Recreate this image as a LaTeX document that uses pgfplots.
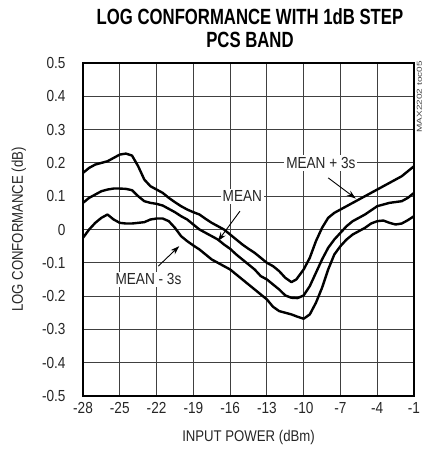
\documentclass[border=0pt]{standalone}
\usepackage{fontspec}
\setmainfont[FakeStretch=0.85]{Liberation Sans}
\newfontfamily\titlefont[FakeStretch=0.76]{Liberation Sans}
\newfontfamily\plainfont{Liberation Sans}
\usepackage{pgfplots}
\usepackage{pgfplotstable}
\pgfplotsset{compat=1.18}
\usetikzlibrary{arrows.meta}

\pgfplotstableread{
x y
-28 0.17
-27.5 0.185
-27 0.195
-26.5 0.2
-26 0.205
-25.5 0.215
-25 0.225
-24.5 0.228
-24 0.222
-23.5 0.19
-23 0.15
-22.5 0.13
-22 0.12
-21.5 0.11
-21 0.095
-20.5 0.082
-20 0.07
-19.5 0.06
-19 0.052
-18.5 0.045
-18 0.032
-17.5 0.02
-17 0.01
-16.5 0.0
-16 -0.015
-15.5 -0.03
-15 -0.045
-14.5 -0.058
-14 -0.07
-13.5 -0.085
-13 -0.1
-12.5 -0.11
-12 -0.125
-11.5 -0.145
-11 -0.158
-10.6 -0.15
-10 -0.12
-9.5 -0.085
-9 -0.035
-8.5 0.005
-8 0.035
-7.5 0.05
-7 0.06
-6.5 0.07
-6 0.08
-5.5 0.09
-5 0.1
-4 0.12
-3 0.14
-2 0.16
-1 0.19
}\updata

\pgfplotstableread{
x y
-28 0.08
-27.5 0.095
-27 0.105
-26.5 0.115
-26 0.12
-25.5 0.123
-25 0.123
-24.5 0.122
-24 0.118
-23.5 0.1
-23 0.085
-22.5 0.08
-22 0.077
-21.5 0.072
-21 0.062
-20.5 0.052
-20 0.04
-19.5 0.03
-19 0.015
-18.5 0.0
-18 -0.01
-17.5 -0.02
-17 -0.03
-16.5 -0.045
-16 -0.058
-15.5 -0.075
-15 -0.09
-14.5 -0.105
-14 -0.12
-13.5 -0.14
-13 -0.15
-12.5 -0.165
-12 -0.18
-11.5 -0.198
-11 -0.205
-10.5 -0.206
-10 -0.198
-9.5 -0.17
-9 -0.13
-8.5 -0.09
-8 -0.055
-7.5 -0.03
-7 -0.01
-6.5 0.01
-6 0.025
-5.5 0.035
-5 0.045
-4 0.07
-3 0.08
-2 0.085
-1.5 0.095
-1 0.11
}\meandata

\pgfplotstableread{
x y
-28 -0.025
-27.5 0.0
-27 0.02
-26.5 0.035
-26 0.045
-25.5 0.03
-25 0.02
-24.5 0.018
-24 0.018
-23.5 0.02
-23 0.022
-22.5 0.03
-22 0.033
-21.5 0.033
-21 0.025
-20.5 0.005
-20 -0.02
-19.5 -0.035
-19 -0.048
-18.5 -0.06
-18 -0.075
-17.5 -0.09
-17 -0.1
-16.5 -0.11
-16 -0.12
-15.5 -0.135
-15 -0.15
-14.5 -0.165
-14 -0.18
-13.5 -0.195
-13 -0.21
-12.5 -0.232
-12 -0.245
-11.5 -0.25
-11 -0.255
-10.5 -0.262
-10 -0.268
-9.5 -0.255
-9 -0.22
-8.5 -0.175
-8 -0.12
-7.5 -0.075
-7 -0.05
-6.5 -0.03
-6 -0.015
-5.5 -0.005
-5 0.005
-4.5 0.018
-4 0.025
-3.5 0.027
-3 0.02
-2.5 0.015
-2 0.018
-1.5 0.028
-1 0.04
}\lowdata

\begin{document}
\begin{tikzpicture}
\useasboundingbox (-83pt,-61pt) rectangle (339pt,396pt);
\begin{axis}[
  at={(0,0)}, anchor=south west,
  scale only axis, width=331pt, height=333pt,
  xmin=-28, xmax=-1, ymin=-0.5, ymax=0.5,
  xtick={-28,-25,-22,-19,-16,-13,-10,-7,-4,-1},
  xticklabels={-28,-25,-22,-19,-16,-13,-10,-7,-4,-1},
  ytick={-0.5,-0.4,-0.3,-0.2,-0.1,0,0.1,0.2,0.3,0.4,0.5},
  yticklabels={-0.5,-0.4,-0.3,-0.2,-0.1,0,0.1,0.2,0.3,0.4,0.5},
  grid=major,
  major grid style={black!75, line width=0.9pt},
  axis line style={line width=2.4pt},
  major tick length=0pt,
  tick label style={font=\fontsize{16}{16}\selectfont, text=black!85},
  yticklabel style={xshift=-14pt},
  xticklabel style={yshift=-3pt},
  xlabel={INPUT POWER (dBm)},
  ylabel={LOG CONFORMANCE (dB)},
  label style={font=\fontsize{15.5}{16}\selectfont, text=black!85},
  xlabel style={yshift=-10pt},
  ylabel style={yshift=9pt},
]
\addplot[black, line width=2.4pt, line join=round, no marks] table {\updata};
\addplot[black, line width=2.4pt, line join=round, no marks] table {\meandata};
\addplot[black, line width=2.4pt, line join=round, no marks] table {\lowdata};
\node[fill=white, inner sep=2pt, font=\fontsize{16}{16}\selectfont, text=black!85] at (axis cs:-8.6,0.2) {MEAN + 3s};
\node[fill=white, inner sep=2pt, font=\fontsize{16}{16}\selectfont, text=black!85] at (axis cs:-15.0,0.1) {MEAN};
\node[fill=white, inner sep=2pt, font=\fontsize{16}{16}\selectfont, text=black!85] at (axis cs:-22.66,-0.15) {MEAN - 3s};
\draw[-{Stealth[length=9pt,width=6pt]}, line width=0.9pt] (axis cs:-8.0,0.155) -- (axis cs:-5.75,0.093);
\draw[-{Stealth[length=9pt,width=6pt]}, line width=0.9pt] (axis cs:-15.2,0.055) -- (axis cs:-17.0,-0.035);
\draw[-{Stealth[length=9pt,width=6pt]}, line width=0.9pt] (axis cs:-21.86,-0.11) -- (axis cs:-20.15,-0.05);
\end{axis}
\node[font=\titlefont\bfseries\fontsize{22}{22}\selectfont] at (167pt,379pt) {LOG CONFORMANCE WITH 1dB STEP};
\node[font=\titlefont\bfseries\fontsize{22}{22}\selectfont] at (167pt,356pt) {PCS BAND};
\node[font=\plainfont\fontsize{10}{10}\selectfont, rotate=90, anchor=east, inner sep=0pt, text=black!75] at (336.5pt,335pt) {\scalebox{1}[0.72]{MAX2202 toc05}};
\end{tikzpicture}
\end{document}
